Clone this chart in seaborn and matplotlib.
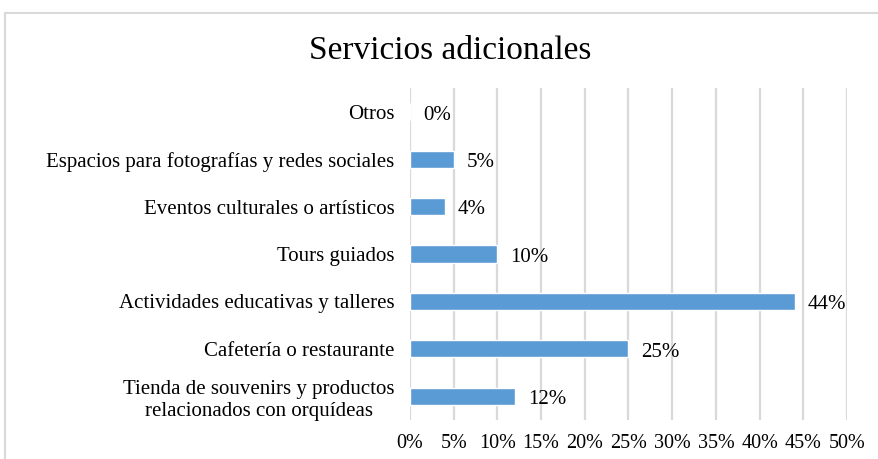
import pandas as pd
import matplotlib.pyplot as plt
import seaborn as sns
from matplotlib.patches import Rectangle

# datos (de arriba hacia abajo)
servicios = ["Otros",
             "Espacios para fotografías y redes sociales",
             "Eventos culturales o artísticos",
             "Tours guiados",
             "Actividades educativas y talleres",
             "Cafetería o restaurante",
             "Tienda de souvenirs y productos\nrelacionados con orquídeas"]
porcentajes = [0, 5, 4, 10, 44, 25, 12]
ticks = [0, 5, 10, 15, 20, 25, 30, 35, 40, 45, 50]

df = pd.DataFrame({"servicio": servicios, "pct": porcentajes})

sns.set_style("white")
plt.rcParams["font.family"] = ["Liberation Serif", "DejaVu Serif"]
plt.rcParams["text.color"] = "black"
plt.rcParams["xtick.color"] = "black"
plt.rcParams["ytick.color"] = "black"

fig = plt.figure(figsize=(8.79, 4.59), dpi=100)
ax = fig.add_axes([0.4664, 0.085, 0.4972, 0.7233])

sns.barplot(data=df, x="pct", y="servicio", color="#5B9BD5", width=0.36,
            saturation=1, ax=ax)

ax.set_xlim(0, 50)
ax.set_ylim(6.5, -0.5)
ax.set_xticks(ticks)
ax.set_xticklabels([f"{t}%" for t in ticks], fontsize=14.5)
ax.tick_params(axis="x", length=0, pad=10)
ax.tick_params(axis="y", length=0, pad=11)
for lab in ax.get_yticklabels():
    lab.set_fontsize(15)
    lab.set_multialignment("center")
ax.set_xlabel("")
ax.set_ylabel("")
ax.grid(axis="x", color="#D9D9D9", linewidth=1.6)
ax.set_axisbelow(True)
sns.despine(ax=ax, left=True, bottom=True)

for i, v in enumerate(porcentajes):
    ax.text(v + 1.5, i + 0.07, f"{v}%", va="center", ha="left", fontsize=15)

fig.text(0.512, 0.89, "Servicios adicionales", ha="center", va="center",
         fontsize=24)

# marco del gráfico
fig.patches.append(Rectangle((0.006, -0.05), 1.1, 1.022, transform=fig.transFigure,
                             fill=False, edgecolor="#D9D9D9", linewidth=1.5))

fig.savefig("out.png", dpi=100)
